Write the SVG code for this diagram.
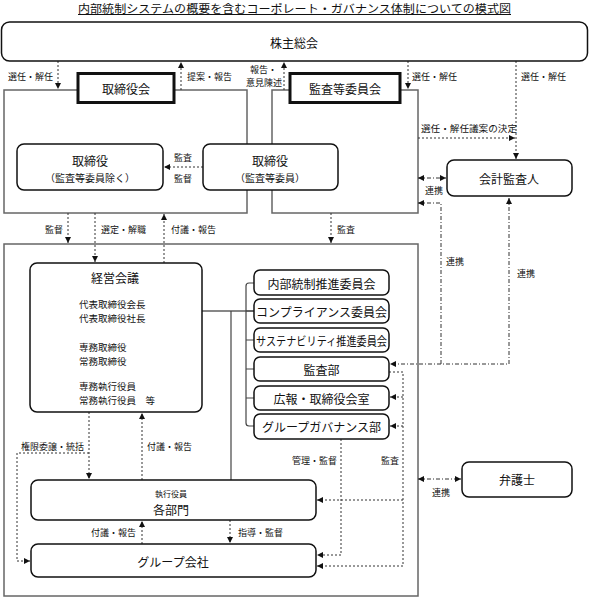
<svg xmlns="http://www.w3.org/2000/svg" width="589" height="598" viewBox="0 0 589 598">
<style>
text{font-family:"Noto Sans CJK JP","Noto Sans",sans-serif;fill:#111;}
.t{font-size:12px;text-anchor:middle;dominant-baseline:central;}
.s{font-size:9px;dominant-baseline:central;}
.m{font-size:9.5px;dominant-baseline:central;}
.box{fill:#fff;stroke:#111;stroke-width:1.5;}
.hb{fill:#fff;stroke:#111;stroke-width:3;}
.frame{fill:none;stroke:#666;stroke-width:1.5;}
.dot{fill:none;stroke:#333;stroke-width:1;stroke-dasharray:2,2;}
.dd{fill:none;stroke:#333;stroke-width:1;stroke-dasharray:4,2,1,2;}
.sol{fill:none;stroke:#444;stroke-width:1.2;}
</style>
<defs>
<marker id="a" markerUnits="userSpaceOnUse" markerWidth="7" markerHeight="7" refX="6" refY="3" orient="auto-start-reverse"><path d="M0,0 L6,3 L0,6 z" fill="#111"/></marker>
</defs>

<text x="78" y="7.5" textLength="433" lengthAdjust="spacingAndGlyphs" style="font-size:11.5px;dominant-baseline:central;">内部統制システムの概要を含むコーポレート・ガバナンス体制についての模式図</text>
<line x1="78" y1="14.5" x2="511" y2="14.5" stroke="#111" stroke-width="1"/>

<g id="frames">
<rect class="frame" x="4" y="90" width="243" height="123"/>
<rect class="frame" x="272" y="90" width="146" height="123"/>
<rect class="frame" x="4" y="244" width="414" height="352"/>
</g>

<g id="connectors">
<path class="dot" d="M58,61 V89" marker-end="url(#a)"/>
<path class="dot" d="M181,90 V62" marker-end="url(#a)"/>
<path class="dot" d="M284,90 V62" marker-end="url(#a)"/>
<path class="dot" d="M408,61 V89" marker-end="url(#a)"/>
<path class="dot" d="M516,61 V159" marker-end="url(#a)"/>
<path class="dot" d="M418,138 H515" marker-end="url(#a)"/>
<path class="dot" d="M203,167 H164" marker-end="url(#a)"/>
<path class="dd" d="M418,178 H446" marker-start="url(#a)" marker-end="url(#a)"/>
<path class="dd" d="M418,203 H441 V364"  marker-start="url(#a)"/>
<path class="dd" d="M509,198 V364 H390" marker-start="url(#a)" marker-end="url(#a)"/>
<path class="dot" d="M68,213 V243" marker-end="url(#a)"/>
<path class="dot" d="M95,213 V262" marker-end="url(#a)"/>
<path class="dot" d="M164,263 V214" marker-end="url(#a)"/>
<path class="dot" d="M331,213 V243" marker-end="url(#a)"/>
<path d="M178,311 H254" fill="none" stroke="#111" stroke-width="1.2"/>
<path class="sol" d="M231,311 V480"/>
<path class="sol" d="M254,283 H249 Q246,283 246,286 V423 Q246,426 249,426 H254 M246,311 H254 M246,340 H254 M246,369 H254 M246,398 H254"/>
<path class="dot" d="M389,372 H403 V566 H317" marker-end="url(#a)"/>
<path class="dot" d="M403,397 H390" marker-end="url(#a)"/>
<path class="dot" d="M403,426 H390" marker-end="url(#a)"/>
<path class="dot" d="M403,500 H317" marker-end="url(#a)"/>
<path class="dot" d="M341,439 V555 H317" marker-end="url(#a)"/>
<path class="dot" d="M89,412 V479" marker-end="url(#a)"/>
<path class="dot" d="M89,453 H17 V561 H30" marker-end="url(#a)"/>
<path class="dot" d="M142,480 V413" marker-end="url(#a)"/>
<path class="dot" d="M142,544 V521" marker-end="url(#a)"/>
<path class="dot" d="M230,520 V543" marker-end="url(#a)"/>
<path class="dd" d="M418,479 H461" marker-start="url(#a)" marker-end="url(#a)"/>
</g>

<g id="labels">
<text class="s" x="8" y="76">選任・解任</text>
<text class="s" x="187" y="76">提案・報告</text>
<text class="s" x="250" y="69.5">報告・</text>
<text class="s" x="246" y="82">意見陳述</text>
<text class="s" x="412" y="76">選任・解任</text>
<text class="s" x="521" y="76">選任・解任</text>
<text class="s" x="421" y="128" textLength="96" lengthAdjust="spacingAndGlyphs">選任・解任議案の決定</text>
<text class="s" x="174" y="157">監査</text>
<text class="s" x="174" y="178">監督</text>
<text class="s" x="425" y="190">連携</text>
<text class="s" x="446" y="261">連携</text>
<text class="s" x="517" y="273">連携</text>
<text class="s" x="45" y="229">監督</text>
<text class="s" x="101" y="229">選定・解職</text>
<text class="s" x="171" y="229">付議・報告</text>
<text class="s" x="337" y="229">監査</text>
<text class="s" x="21" y="446">権限委譲・統括</text>
<text class="s" x="147" y="446">付議・報告</text>
<text class="s" x="292" y="460">管理・監督</text>
<text class="s" x="381" y="460">監査</text>
<text class="s" x="432" y="492">連携</text>
<text class="s" x="91" y="532">付議・報告</text>
<text class="s" x="238" y="532">指導・監督</text>
</g>

<g id="n-kabunushi"><rect class="box" x="1.5" y="22" width="586" height="39" rx="8"/><text class="t" x="294" y="42">株主総会</text></g>
<g id="n-torishimariyakukai"><rect class="hb" x="78" y="73.5" width="96" height="29"/><text class="t" x="126" y="88">取締役会</text></g>
<g id="n-kansakai"><rect class="hb" x="290" y="73.5" width="110" height="29"/><text class="t" x="345" y="88">監査等委員会</text></g>
<g id="n-tori1"><rect class="box" x="17" y="144" width="146" height="46" rx="7"/><text class="t" x="90" y="160">取締役</text><text class="t" x="90" y="177" style="font-size:10px">（監査等委員除く）</text></g>
<g id="n-tori2"><rect class="box" x="203" y="144" width="135" height="46" rx="7"/><text class="t" x="270" y="160">取締役</text><text class="t" x="270" y="177" style="font-size:10px">（監査等委員）</text></g>
<g id="n-kaikei"><rect class="box" x="447" y="160" width="125" height="36" rx="7"/><text class="t" x="509" y="178">会計監査人</text></g>
<g id="n-keiei"><rect class="box" x="30" y="263" width="172" height="149" rx="7"/>
<text class="t" x="115" y="277">経営会議</text>
<text class="m" x="79" y="304">代表取締役会長</text>
<text class="m" x="79" y="318">代表取締役社長</text>
<text class="m" x="79" y="347">専務取締役</text>
<text class="m" x="79" y="361">常務取締役</text>
<text class="m" x="79" y="386">専務執行役員</text>
<text class="m" x="79" y="400">常務執行役員　等</text>
</g>
<g id="n-naibu"><rect class="box" x="254" y="270" width="135" height="25" rx="6"/><text class="t" x="321.5" y="283">内部統制推進委員会</text></g>
<g id="n-comp"><rect class="box" x="254" y="299" width="135" height="24" rx="6"/><text class="t" x="321.5" y="311">コンプライアンス委員会</text></g>
<g id="n-sus"><rect class="box" x="254" y="328" width="135" height="24" rx="6"/><text class="t" x="321.5" y="340" textLength="131" lengthAdjust="spacingAndGlyphs">サステナビリティ推進委員会</text></g>
<g id="n-kansabu"><rect class="box" x="254" y="357" width="135" height="24" rx="6"/><text class="t" x="321.5" y="369">監査部</text></g>
<g id="n-koho"><rect class="box" x="254" y="386" width="135" height="24" rx="6"/><text class="t" x="321.5" y="398">広報・取締役会室</text></g>
<g id="n-group-gov"><rect class="box" x="254" y="414" width="135" height="25" rx="6"/><text class="t" x="321.5" y="426">グループガバナンス部</text></g>
<g id="n-kakubumon"><rect class="box" x="31" y="480" width="285" height="40" rx="7"/><text class="t" x="171" y="493" style="font-size:8px">執行役員</text><text class="t" x="171" y="509">各部門</text></g>
<g id="n-group"><rect class="box" x="31" y="544" width="285" height="33" rx="7"/><text class="t" x="173" y="561">グループ会社</text></g>
<g id="n-bengoshi"><rect class="box" x="462" y="462" width="110" height="35" rx="7"/><text class="t" x="517" y="479">弁護士</text></g>
</svg>
